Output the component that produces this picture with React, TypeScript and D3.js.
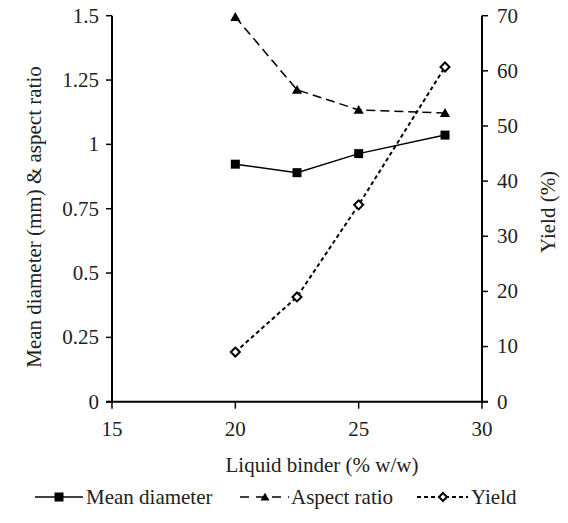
import React from "react";
import * as d3 from "d3";

const binder = [20, 22.5, 25, 28.5];
const meanDiameter = [0.923, 0.89, 0.964, 1.036];
const aspectRatio = [1.495, 1.212, 1.134, 1.122];
const yieldPct = [9.0, 19.0, 35.7, 60.7];
const xTicks = [15, 20, 25, 30];
const leftTicks = [0, 0.25, 0.5, 0.75, 1, 1.25, 1.5];
const rightTicks = [0, 10, 20, 30, 40, 50, 60, 70];

const W = 568, H = 523;
const m = { left: 112, right: 482, top: 15.7, bottom: 401.7 };
const FONT = "'Liberation Serif', Tinos, 'Times New Roman', Times, serif";
const FS = 21;
const ts: React.CSSProperties = { fontFamily: FONT, fontSize: FS };

export default function App() {
  const x = d3.scaleLinear().domain([15, 30]).range([m.left, m.right]);
  const yL = d3.scaleLinear().domain([0, 1.5]).range([m.bottom, m.top]);
  const yR = d3.scaleLinear().domain([0, 70]).range([m.bottom, m.top]);

  const lineL = d3.line<[number, number]>().x(d => x(d[0])).y(d => yL(d[1]));
  const lineR = d3.line<[number, number]>().x(d => x(d[0])).y(d => yR(d[1]));

  const md = binder.map((b, i) => [b, meanDiameter[i]] as [number, number]);
  const ar = binder.map((b, i) => [b, aspectRatio[i]] as [number, number]);
  const yl = binder.map((b, i) => [b, yieldPct[i]] as [number, number]);

  const tri = d3.symbol().type(d3.symbolTriangle).size(45)() as string;
  const triSmall = d3.symbol().type(d3.symbolTriangle).size(35)() as string;

  const square = (cx: number, cy: number, s: number, k: string) => (
    <rect key={k} x={cx - s / 2} y={cy - s / 2} width={s} height={s} fill="#000" />
  );
  const diamond = (cx: number, cy: number, r: number, k: string) => (
    <path key={k} d={`M${cx},${cy - r}L${cx + r},${cy}L${cx},${cy + r}L${cx - r},${cy}Z`} fill="#fff" stroke="#000" strokeWidth={2} />
  );

  const legY = 497;

  return (
    <svg width={W} height={H} style={{ position: "absolute", left: 0, top: 0 }}>
      <rect width={W} height={H} fill="#fff" />
      {/* axes */}
      <line x1={m.left} x2={m.left} y1={m.top} y2={m.bottom} stroke="#000" strokeWidth={2} />
      <line x1={m.right} x2={m.right} y1={m.top} y2={m.bottom} stroke="#000" strokeWidth={2} />
      <line x1={m.left - 6} x2={m.right + 6} y1={m.bottom} y2={m.bottom} stroke="#000" strokeWidth={2} />
      {leftTicks.map(t => (
        <g key={"l" + t}>
          <line x1={m.left - 6} x2={m.left} y1={yL(t)} y2={yL(t)} stroke="#000" strokeWidth={1.5} />
          <text x={m.left - 13} y={yL(t)} dy="0.33em" textAnchor="end" style={ts} fill="#222">{t}</text>
        </g>
      ))}
      {rightTicks.map(t => (
        <g key={"r" + t}>
          <line x1={m.right} x2={m.right + 6} y1={yR(t)} y2={yR(t)} stroke="#000" strokeWidth={1.5} />
          <text x={m.right + 15} y={yR(t)} dy="0.33em" textAnchor="start" style={ts} fill="#222">{t}</text>
        </g>
      ))}
      {xTicks.map(t => (
        <g key={"x" + t}>
          <line x1={x(t)} x2={x(t)} y1={m.bottom} y2={m.bottom + 7} stroke="#000" strokeWidth={1.5} />
          <text x={x(t)} y={436} textAnchor="middle" style={ts} fill="#222">{t}</text>
        </g>
      ))}
      {/* titles */}
      <text x={322} y={472} textAnchor="middle" style={ts} fill="#222">Liquid binder (% w/w)</text>
      <text transform={`translate(41,217) rotate(-90)`} textAnchor="middle" style={ts} fill="#222">Mean diameter (mm) &amp; aspect ratio</text>
      <text transform={`translate(555,212) rotate(-90)`} textAnchor="middle" style={ts} fill="#222">Yield (%)</text>

      {/* series */}
      <path d={lineL(md) as string} fill="none" stroke="#000" strokeWidth={1.5} />
      <path d={lineL(ar) as string} fill="none" stroke="#000" strokeWidth={1.5} strokeDasharray="9,5" />
      <path d={lineR(yl) as string} fill="none" stroke="#000" strokeWidth={2} strokeDasharray="4,3" />
      {md.map((d, i) => square(x(d[0]), yL(d[1]), 9, "s" + i))}
      {ar.map((d, i) => (
        <path key={"t" + i} d={tri} transform={`translate(${x(d[0])},${yL(d[1]) + 1})`} fill="#000" />
      ))}
      {yl.map((d, i) => diamond(x(d[0]), yR(d[1]), 4.5, "d" + i))}

      {/* legend */}
      <line x1={35} x2={83} y1={legY} y2={legY} stroke="#000" strokeWidth={1.5} />
      {square(59, legY, 9, "ls")}
      <text x={86} y={legY} dy="0.33em" style={ts} fill="#222">Mean diameter</text>

      <line x1={240} x2={289} y1={legY} y2={legY} stroke="#000" strokeWidth={1.5} strokeDasharray="9,7" />
      <path d={triSmall} transform={`translate(265,${legY + 1})`} fill="#000" />
      <text x={291} y={legY} dy="0.33em" style={ts} fill="#222">Aspect ratio</text>

      <line x1={417} x2={468} y1={legY} y2={legY} stroke="#000" strokeWidth={2} strokeDasharray="4,3" />
      <path d={`M443,${legY - 4}L447,${legY}L443,${legY + 4}L439,${legY}Z`} fill="#fff" stroke="#000" strokeWidth={2} />
      <text x={471} y={legY} dy="0.33em" style={ts} fill="#222">Yield</text>
    </svg>
  );
}
